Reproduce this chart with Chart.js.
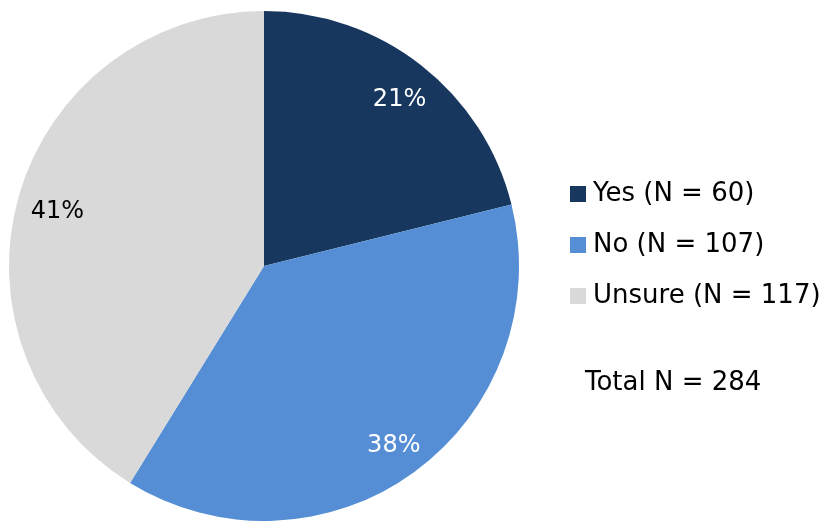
<!DOCTYPE html>
<html lang="en">
<head>
    <meta charset="UTF-8">
    <meta name="viewport" content="width=device-width, initial-scale=1.0">
    <title>Document</title>
    <style>
        html, body { margin: 0; padding: 0; background: #fff; }
        #wrap { width: 827px; height: 522px; }
    </style>
</head>
<body>

    <div id="wrap">
        <canvas id="myChart" width="827" height="522"></canvas>
    </div>

    <script src="https://cdn.jsdelivr.net/npm/chart.js"></script>

    <script>
        const categories = ['Yes', 'No', 'Unsure'];
        const counts = [60, 107, 117];
        const sliceColors = ['#17375E', '#558ED5', '#D9D9D9'];
        const labelColors = ['#ffffff', '#ffffff', '#000000'];
        const totalText = 'Total N = 284';

        const FONT = '"DejaVu Sans", sans-serif';
        const total = counts.reduce((a, b) => a + b, 0);

        // percentage text inside each slice
        const sliceLabels = {
            id: 'sliceLabels',
            afterDatasetsDraw(chart) {
                const c = chart.ctx;
                const meta = chart.getDatasetMeta(0);
                c.save();
                c.font = '24px ' + FONT;
                c.textAlign = 'center';
                c.textBaseline = 'middle';
                meta.data.forEach((arc, i) => {
                    const p = arc.getProps(['x', 'y', 'startAngle', 'endAngle', 'outerRadius']);
                    const mid = (p.startAngle + p.endAngle) / 2;
                    const r = p.outerRadius * 0.85;
                    const pct = Math.round(counts[i] / total * 100) + '%';
                    c.fillStyle = labelColors[i];
                    c.fillText(pct, p.x + Math.cos(mid) * r + 2, p.y + Math.sin(mid) * r + 5);
                });
                c.restore();
            }
        };

        // legend on the right, plus the total line
        const sideLegend = {
            id: 'sideLegend',
            afterDraw(chart) {
                const c = chart.ctx;
                c.save();
                c.font = '26px ' + FONT;
                c.textBaseline = 'middle';
                c.textAlign = 'left';
                categories.forEach((name, i) => {
                    const y = 194 + i * 51;
                    c.fillStyle = sliceColors[i];
                    c.fillRect(570, y - 8, 16, 16);
                    c.fillStyle = '#000';
                    c.fillText(name + ' (N = ' + counts[i] + ')', 593, y);
                });
                c.fillText(totalText, 585, 383);
                c.restore();
            }
        };

        const ctx = document.getElementById('myChart');

        let pieChart = new Chart(ctx, {
            type: 'pie',
            data: {
                labels: categories,
                datasets: [{
                    data: counts,
                    backgroundColor: sliceColors,
                    borderWidth: 0
                }]
            },
            options: {
                responsive: false,
                animation: false,
                devicePixelRatio: 1,
                layout: {
                    padding: { left: 9, top: 11, right: 308, bottom: 1 }
                },
                plugins: {
                    legend: { display: false },
                    tooltip: { enabled: false }
                }
            },
            plugins: [sliceLabels, sideLegend]
        });
    </script>
</body>
</html>
